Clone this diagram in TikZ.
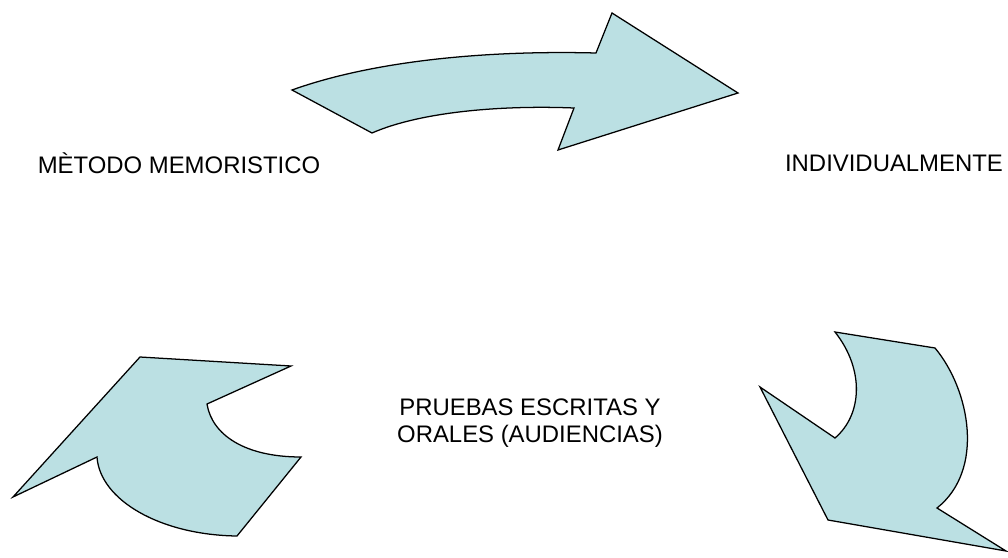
\documentclass[tikz,border=0pt]{standalone}
\usepackage{fontspec}
\setmainfont{Liberation Sans}
\definecolor{arrowfill}{RGB}{187,224,227}
\begin{document}
\begin{tikzpicture}[x=0.025cm,y=-0.025cm]
      \useasboundingbox (0,0) rectangle (1008,558);
      \begin{scope}[every node/.style={font=\fontsize{17}{19}\selectfont,align=center}]
      \node (metodo) at (179,163) {MÈTODO MEMORISTICO};
      \node (indiv) at (894,163) {INDIVIDUALMENTE};
      \node (pruebas) at (530,423) {PRUEBAS ESCRITAS Y\\ORALES (AUDIENCIAS)};
      \end{scope}
      \begin{scope}[every path/.style={fill=arrowfill,draw=black,line width=0.9pt,line join=miter}]
      % top arrow
      \path (292,90) .. controls (370,62) and (480,50) .. (596,53)
        -- (612,13) -- (738,93) -- (558,150) -- (574,108)
        .. controls (500,105) and (420,112) .. (372,133) -- cycle;
      % lower right arrow
      \path (835,332) -- (935,348)
        .. controls (970,390) and (985,470) .. (937,508)
        -- (1006,551) -- (828,520) -- (760,387) -- (835,438)
        .. controls (862,415) and (865,370) .. cycle;
      % lower left arrow
      \path (140,357) -- (291,366) -- (207,404)
        .. controls (212,435) and (245,457) .. (301,457)
        -- (237,536) .. controls (160,535) and (100,500) .. (97,457)
        -- (13,497) -- cycle;
      \end{scope}
      \end{tikzpicture}
\end{document}
